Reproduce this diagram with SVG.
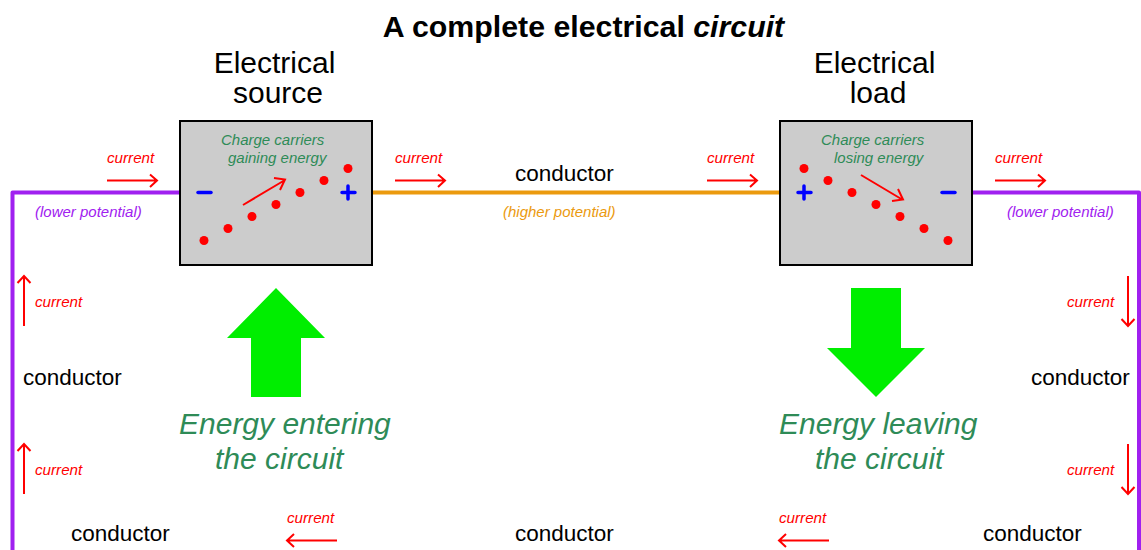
<svg xmlns="http://www.w3.org/2000/svg" width="1141" height="550" viewBox="0 0 1141 550">
<style>
text{font-family:"Liberation Sans",Arial,sans-serif}
.cur{font-size:15.200px;font-style:italic;fill:#ff0000}
.arr{fill:none;stroke:#ff0000;stroke-width:2}
.cond{font-size:22.500px;fill:#000}
.head{font-size:30px;fill:#000;text-anchor:middle}
.green{fill:#2e8b57;font-style:italic}
.cc{font-size:15px}
.en{font-size:30px}
.pot{font-size:15px;font-style:italic}
.box{fill:#cccccc;stroke:#000;stroke-width:2}
.dot{fill:#ff0000}
.sign{fill:none;stroke:#0000ff;stroke-width:3.500;stroke-linecap:round}
.bigarrow{fill:#00ee00}
</style>
<rect width="1141" height="550" fill="#fff"/>
<text x="583.500" y="37" text-anchor="middle" font-size="30.300" font-weight="bold">A complete electrical <tspan font-style="italic">circuit</tspan></text>
<g id="connectors">
<path d="M180 192.500H12.500V550M972 192.500H1139V550" fill="none" stroke="#a020f0" stroke-width="4" stroke-linejoin="round"/>
<path d="M372 192.500H780" fill="none" stroke="#eb9a0e" stroke-width="4"/>
</g>
<g id="source">
<rect class="box" x="180" y="121" width="192" height="144"/>
<text class="green cc" x="221" y="145">Charge carriers</text>
<text class="green cc" x="228" y="163">gaining energy</text>
<circle class="dot" cx="204" cy="240.500" r="4.500"/><circle class="dot" cx="228" cy="228.500" r="4.500"/><circle class="dot" cx="252" cy="216.500" r="4.500"/><circle class="dot" cx="276" cy="204.500" r="4.500"/><circle class="dot" cx="300" cy="192.500" r="4.500"/><circle class="dot" cx="324" cy="180.500" r="4.500"/><circle class="dot" cx="348" cy="168.500" r="4.500"/>
<path class="arr" d="M243 205L285 180M274 178L285 179.500L280 190"/>
<path class="sign" d="M198 192.500H211"/>
<path class="sign" d="M342 192.500H355M348 186V199"/>
</g>
<g id="load">
<rect class="box" x="780" y="121" width="192" height="144"/>
<text class="green cc" x="821" y="145">Charge carriers</text>
<text class="green cc" x="834" y="163">losing energy</text>
<circle class="dot" cx="804" cy="168.500" r="4.500"/><circle class="dot" cx="828" cy="180.500" r="4.500"/><circle class="dot" cx="852" cy="192.500" r="4.500"/><circle class="dot" cx="876" cy="204.500" r="4.500"/><circle class="dot" cx="900" cy="216.500" r="4.500"/><circle class="dot" cx="924" cy="228.500" r="4.500"/><circle class="dot" cx="948" cy="240.500" r="4.500"/>
<path class="arr" d="M861 175L903 200M892 201L903 199.500L898 189"/>
<path class="sign" d="M798 192.500H811M804 186V199"/>
<path class="sign" d="M942 192.500H955"/>
</g>
<g id="labels">
<text class="head" x="274.500" y="73">Electrical</text>
<text class="head" x="278" y="103">source</text>
<text class="head" x="874.500" y="73">Electrical</text>
<text class="head" x="878" y="103">load</text>
<text class="cond" x="515" y="181">conductor</text>
<text class="cond" x="23" y="385">conductor</text>
<text class="cond" x="1031" y="385">conductor</text>
<text class="cond" x="71" y="541">conductor</text>
<text class="cond" x="515" y="541">conductor</text>
<text class="cond" x="983" y="541">conductor</text>
<text class="pot" x="35" y="217" fill="#a020f0">(lower potential)</text>
<text class="pot" x="1007" y="217" fill="#a020f0">(lower potential)</text>
<text class="pot" x="503" y="217" fill="#eb9a0e">(higher potential)</text>
</g>
<g id="currents">
<text class="cur" x="107" y="163">current</text><path class="arr" d="M107 180.500H157M150 174.500L157 180.500L150 187"/>
<text class="cur" x="395" y="163">current</text><path class="arr" d="M395 180.500H445M438 174.500L445 180.500L438 187"/>
<text class="cur" x="707" y="163">current</text><path class="arr" d="M707 180.500H757M750 174.500L757 180.500L750 187"/>
<text class="cur" x="995" y="163">current</text><path class="arr" d="M995 180.500H1045M1038 174.500L1045 180.500L1038 187"/>
<text class="cur" x="35" y="307">current</text><path class="arr" d="M24 326V276M17.500 283L24 276L30.500 283"/>
<text class="cur" x="35" y="475">current</text><path class="arr" d="M24 494V444M17.500 451L24 444L30.500 451"/>
<text class="cur" x="1067" y="307">current</text><path class="arr" d="M1128 276V326M1121.500 319L1128 326L1134.500 319"/>
<text class="cur" x="1067" y="475">current</text><path class="arr" d="M1128 444V494M1121.500 487L1128 494L1134.500 487"/>
<text class="cur" x="287" y="523">current</text><path class="arr" d="M337 540.500H287M294 534L287 540.500L294 547"/>
<text class="cur" x="779" y="523">current</text><path class="arr" d="M829 540.500H779M786 534L779 540.500L786 547"/>
</g>
<g id="energy-in">
<path class="bigarrow" d="M276 288L325 338H301V397H251V338H227Z"/>
<text class="green en" x="179" y="433.500">Energy entering</text>
<text class="green en" x="215" y="469">the circuit</text>
</g>
<g id="energy-out">
<path class="bigarrow" d="M851 288H901V348H925L876 397L827 348H851Z"/>
<text class="green en" x="779" y="433.500">Energy leaving</text>
<text class="green en" x="815" y="469">the circuit</text>
</g>
</svg>
